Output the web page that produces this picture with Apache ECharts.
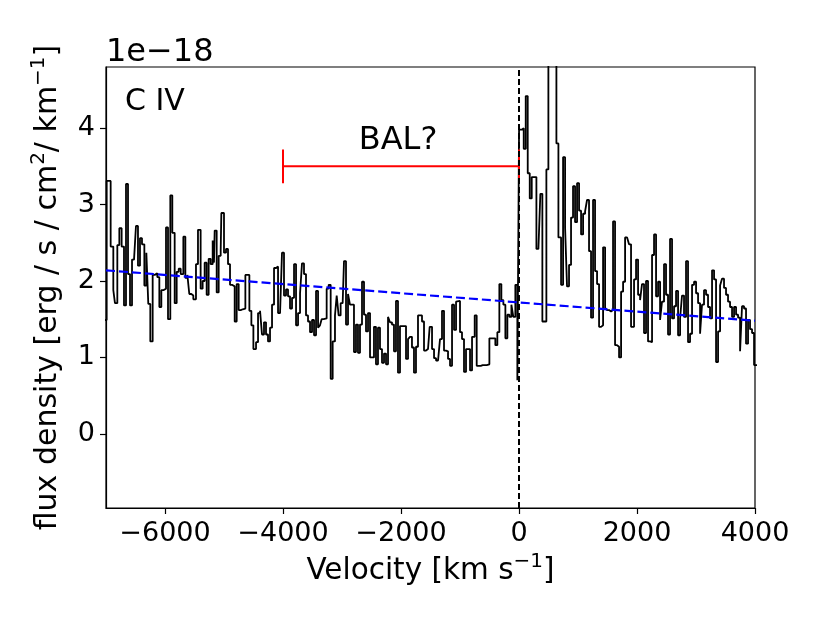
<!DOCTYPE html>
<html><head><meta charset="utf-8">
<script src="https://cdn.jsdelivr.net/npm/echarts@6/dist/echarts.min.js"></script>
<style>html,body{margin:0;padding:0;background:#fff}#c{width:830px;height:623px}</style>
</head><body><div id="c"></div>
<script>
// Spectrum: left edge of each step (km/s) and flux density (1e-18)
const velocity = [
-7034,-6989,-6921,-6876,-6848,-6808,-6774,-6735,-6695,-6661,-6627,-6593,-6559,-6525,-6492,-6458,-6424,-6390,-6350,-6316,
-6283,-6249,-6209,-6175,-6130,-6096,-6062,-6028,-5983,-5949,-5910,-5876,-5836,-5802,-5768,-5734,-5689,-5655,-5621,-5588,
-5554,-5520,-5475,-5441,-5396,-5362,-5328,-5294,-5260,-5226,-5192,-5170,-5158,-5124,-5090,-5056,-5045,-5000,-4966,-4932,
-4898,-4864,-4819,-4785,-4751,-4717,-4683,-4638,-4604,-4570,-4536,-4502,-4457,-4423,-4389,-4356,-4322,-4288,-4254,-4220,
-4186,-4152,-4118,-4084,-4050,-4017,-3983,-3949,-3915,-3881,-3847,-3813,-3779,-3745,-3711,-3678,-3644,-3610,-3576,-3542,
-3508,-3474,-3440,-3406,-3373,-3345,-3310,-3260,-3226,-3192,-3158,-3119,-3090,-3057,-3023,-2989,-2966,-2932,-2898,-2865,
-2831,-2797,-2763,-2729,-2695,-2661,-2627,-2593,-2559,-2525,-2492,-2458,-2424,-2390,-2356,-2322,-2288,-2254,-2220,-2187,
-2153,-2119,-2085,-2051,-2017,-1983,-1949,-1915,-1881,-1848,-1814,-1780,-1746,-1712,-1678,-1644,-1610,-1576,-1542,-1514,
-1474,-1440,-1406,-1372,-1339,-1305,-1271,-1237,-1203,-1169,-1135,-1101,-1067,-1034,-1000,-966,-932,-898,-864,-830,
-796,-751,-717,-683,-649,-615,-581,-547,-502,-469,-435,-401,-367,-333,-299,-265,-231,-197,-163,-129,
-96,-62,-28,1,46,80,114,148,182,216,250,295,329,362,396,430,464,498,532,566,
600,634,668,713,747,781,814,848,882,916,950,984,1018,1052,1086,1120,1153,1187,1221,1255,
1289,1323,1357,1391,1425,1459,1492,1526,1560,1594,1628,1662,1696,1730,1764,1798,1832,1865,1899,1950,
1984,2018,2052,2085,2119,2153,2187,2221,2255,2289,2323,2357,2391,2424,2458,2492,2526,2560,2594,2628,
2662,2696,2730,2763,2797,2831,2865,2899,2933,2967,3001,3035,3069,3102,3136,3170,3204,3238,3272,3306,
3340,3374,3408,3441,3475,3509,3543,3577,3611,3645,3679,3713,3747,3780,3814,3848,3882,3916,3950,3984,
4040
];
const flux = [
1.49,3.31,2.45,1.88,1.71,2.47,2.69,2.45,1.68,3.27,2.09,1.68,2.28,2.29,2.72,2.20,2.56,2.48,1.94,2.37,
1.70,1.21,2.08,2.10,2.05,1.66,1.88,1.90,2.70,1.50,3.12,2.63,1.71,2.12,2.16,2.09,2.58,2.04,2.08,1.83,
1.81,1.76,2.22,2.67,1.90,2.00,2.24,1.82,2.29,2.22,2.53,2.24,2.66,1.85,2.33,2.40,2.89,2.37,2.42,2.22,
1.95,1.93,1.47,1.96,1.62,1.63,1.64,2.08,2.08,1.61,1.42,1.11,1.20,1.58,1.61,1.30,1.46,1.30,1.21,1.39,
1.69,2.17,2.19,1.58,1.60,2.37,1.81,1.89,1.80,1.64,1.78,2.22,1.42,1.58,1.84,2.23,2.09,1.55,1.47,1.33,
1.49,1.29,1.87,1.39,1.42,1.50,1.51,1.90,1.95,0.72,1.21,1.55,1.81,1.55,1.71,1.70,2.26,1.43,1.83,1.69,
1.69,1.07,1.43,1.06,1.43,1.99,1.56,1.34,1.58,1.00,1.00,1.40,0.91,1.39,1.11,0.93,1.05,0.91,1.53,1.46,
1.43,1.08,1.74,0.80,1.41,1.41,1.41,0.98,1.24,1.27,1.13,0.80,1.14,1.55,1.55,1.47,1.09,1.11,1.11,1.40,
1.11,0.99,0.96,0.94,1.24,1.61,1.09,1.08,0.98,0.89,1.69,1.36,1.73,1.74,1.33,1.24,0.81,1.11,1.11,0.83,
1.27,1.55,0.89,0.89,0.90,0.90,0.90,0.91,1.25,1.25,1.25,1.16,1.33,1.96,1.75,1.69,1.25,1.56,1.53,1.69,
1.53,1.95,0.70,3.98,4.00,3.73,4.42,3.41,3.08,3.36,3.36,2.42,2.42,3.14,1.47,1.47,3.46,7.50,7.50,7.00,
7.00,3.80,2.57,1.95,3.62,2.70,1.93,2.21,2.83,3.24,2.77,3.28,2.92,2.61,2.88,2.91,3.06,2.39,1.52,3.06,
2.13,1.96,1.40,1.42,2.44,1.65,1.62,1.60,1.62,2.78,1.16,1.14,1.00,1.86,1.99,2.57,2.59,2.48,1.40,2.02,
2.28,1.82,1.75,1.96,1.32,2.00,1.21,1.20,2.34,2.61,1.80,1.99,1.49,1.73,2.22,1.82,1.30,2.55,1.51,1.67,
1.87,1.29,1.51,1.81,1.53,2.26,1.20,1.31,1.95,1.99,1.84,1.71,1.31,1.69,1.88,1.82,1.66,1.51,2.14,2.02,
0.94,1.34,1.94,2.03,1.91,1.82,1.73,1.66,1.53,1.66,1.56,1.52,1.08,1.67,1.64,1.18,1.49,1.37,1.32,0.90,
0.90
];
// Continuum fit (blue dashed) endpoints
const fitVelocity = [-7000, 4000];
const fitFlux = [2.14, 1.48];
// BAL? marker
const balVelocity = [-4000, 0];
const balFlux = 3.50;
const balCapFlux = [3.28, 3.72];
// Axes
const xRange = [-7000, 4000];
const yRange = [-0.97, 4.80];
const xTicks = [-6000, -4000, -2000, 0, 2000, 4000];
const yTicks = [0, 1, 2, 3, 4];
const lineLabel = 'C IV';
const balLabel = 'BAL?';
const offsetLabel = '1e\u221218';

const FONT = 'DejaVu Sans';
const chart = echarts.init(document.getElementById('c'), null, {renderer: 'canvas'});
const fmt = v => (v < 0 ? '\u2212' + Math.abs(v) : String(v));

const spec = velocity.map((v, i) => [v, flux[i]]);
const fit = fitVelocity.map((v, i) => [v, fitFlux[i]]);

chart.setOption({
  animation: false,
  backgroundColor: '#fff',
  grid: {left: 106, right: 75, top: 67, bottom: 115, show: true, borderColor: '#000', borderWidth: 1.2, backgroundColor: 'transparent'},
  xAxis: {
    type: 'value', min: xRange[0], max: xRange[1],
    splitLine: {show: false},
    axisLine: {show: true, onZero: false, lineStyle: {color: '#000', width: 1.2}},
    axisTick: {show: true, length: 6, lineStyle: {color: '#000', width: 1.2}, customValues: xTicks},
    axisLabel: {customValues: xTicks, formatter: fmt, fontSize: 27, fontFamily: FONT, color: '#000', margin: 12},
    name: 'Velocity [km s{sup|\u22121}]', nameLocation: 'middle', nameGap: 41,
    nameTextStyle: {fontSize: 29.5, fontFamily: FONT, color: '#000', lineHeight: 38,
      rich: {sup: {fontSize: 20, fontFamily: FONT, color: '#000', verticalAlign: 'top', lineHeight: 21}}}
  },
  yAxis: {
    type: 'value', min: yRange[0], max: yRange[1],
    splitLine: {show: false},
    axisLine: {show: true, onZero: false, lineStyle: {color: '#000', width: 1.2}},
    axisTick: {show: true, length: 6, lineStyle: {color: '#000', width: 1.2}, customValues: yTicks},
    axisLabel: {customValues: yTicks, formatter: fmt, fontSize: 27, fontFamily: FONT, color: '#000', margin: 11},
    name: 'flux density [erg / s / cm{sup|2}/ km{sup|\u22121}]', nameLocation: 'middle', nameGap: 34, nameRotate: 90,
    nameTextStyle: {fontSize: 30, fontFamily: FONT, color: '#000', lineHeight: 38,
      rich: {sup: {fontSize: 20, fontFamily: FONT, color: '#000', verticalAlign: 'top', lineHeight: 21}}}
  },
  series: [
    {type: 'line', data: spec, step: 'end', symbol: 'none', clip: true,
     lineStyle: {color: '#000', width: 1.8}, z: 2},
    {type: 'line', data: fit, symbol: 'none', clip: true,
     lineStyle: {color: '#0000ff', width: 2.2, type: [9, 4]}, z: 3},
    {type: 'line', data: balVelocity.map(v => [v, balFlux]), symbol: 'none',
     lineStyle: {color: '#ff0000', width: 2}, z: 4},
    {type: 'line', data: balCapFlux.map(f => [balVelocity[0], f]), symbol: 'none',
     lineStyle: {color: '#ff0000', width: 2}, z: 4},
    {type: 'line', data: balCapFlux.map(f => [balVelocity[1], f]), symbol: 'none',
     lineStyle: {color: '#ff0000', width: 2}, z: 4},
    {type: 'line', data: [[0, yRange[0]], [0, yRange[1]]], symbol: 'none',
     lineStyle: {color: '#000', width: 2, type: [6, 3]}, z: 5}
  ]
});

const pC = chart.convertToPixel({gridIndex: 0}, [-6678, 4.34]);
const pB = chart.convertToPixel({gridIndex: 0}, [-2050, 3.835]);
chart.setOption({
  graphic: [
    {type: 'text', x: pC[0], y: pC[1], style: {text: lineLabel, fontSize: 30, fontFamily: FONT, fill: '#000', align: 'left', verticalAlign: 'middle'}, z: 10},
    {type: 'text', x: pB[0], y: pB[1], style: {text: balLabel, fontSize: 32, fontFamily: FONT, fill: '#000', align: 'center', verticalAlign: 'middle'}, z: 10},
    {type: 'text', x: 106, y: 53, style: {text: offsetLabel, fontSize: 32, fontFamily: FONT, fill: '#000', align: 'left', verticalAlign: 'middle'}, z: 10}
  ]
});
</script></body></html>
